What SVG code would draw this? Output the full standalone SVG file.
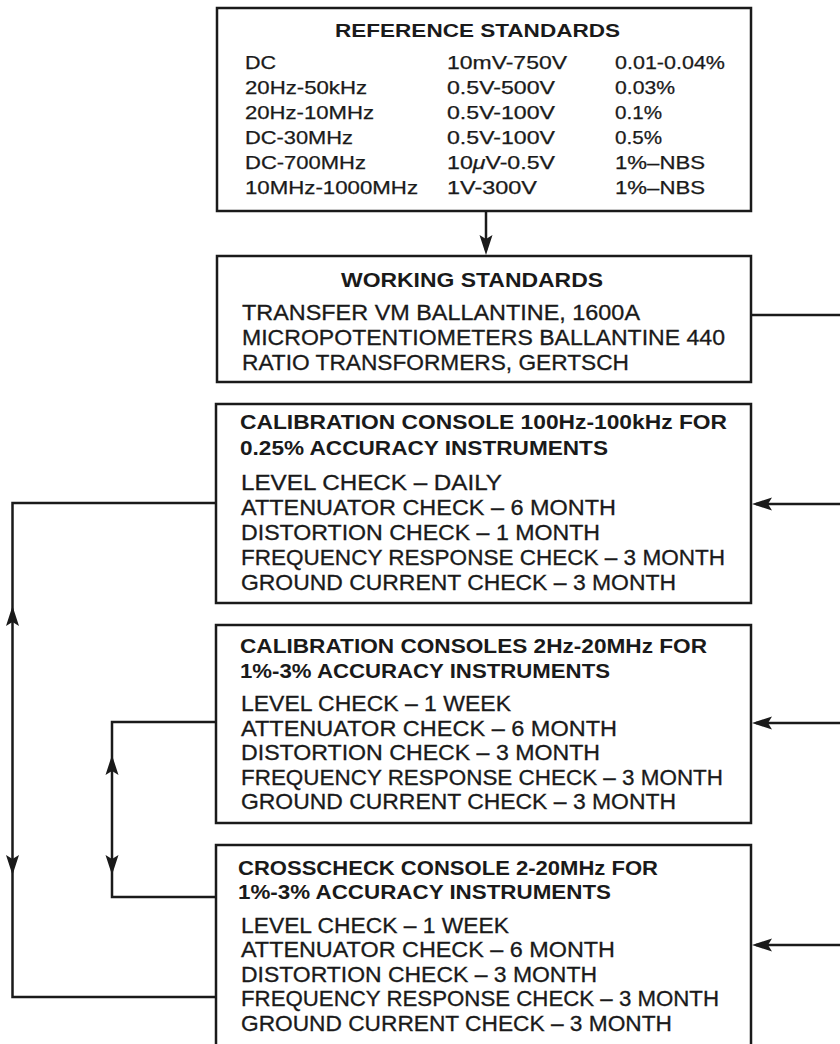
<svg xmlns="http://www.w3.org/2000/svg" xmlns:xlink="http://www.w3.org/1999/xlink" width="840" height="1044" viewBox="0 0 840 1044">
<style>
.box{fill:none;stroke:#1a1a1a;stroke-width:2.5}
.ln{fill:none;stroke:#1a1a1a;stroke-width:2.5}
.t{font-family:"Liberation Sans",Arial,sans-serif;fill:#1a1a1a;font-size:22px;stroke:#1a1a1a;stroke-width:0.3}
.s{font-family:"Liberation Sans",Arial,sans-serif;fill:#1a1a1a;font-size:18px;stroke:#1a1a1a;stroke-width:0.25}
.b{font-family:"Liberation Sans",Arial,sans-serif;fill:#1a1a1a;font-size:20px;font-weight:bold}
.bs{font-family:"Liberation Sans",Arial,sans-serif;fill:#1a1a1a;font-size:18px;font-weight:bold}
.ah{fill:#1a1a1a}
</style>
<defs>
<path id="ah" d="M0,0 L-20,-6.5 L-16,0 L-20,6.5 Z"/>
</defs>
<rect width="840" height="1044" fill="#ffffff"/>

<g id="connectors">
<line class="ln" x1="486" y1="211" x2="486" y2="250"/>
<use href="#ah" class="ah" transform="translate(486,255) rotate(90)"/>
<line class="ln" x1="751" y1="315" x2="840" y2="315"/>
<line class="ln" x1="756" y1="504" x2="840" y2="504"/>
<use href="#ah" class="ah" transform="translate(752,504) rotate(180)"/>
<line class="ln" x1="756" y1="723" x2="840" y2="723"/>
<use href="#ah" class="ah" transform="translate(752,723) rotate(180)"/>
<line class="ln" x1="756" y1="945" x2="840" y2="945"/>
<use href="#ah" class="ah" transform="translate(752,945) rotate(180)"/>
<polyline class="ln" points="216,503 12.5,503 12.5,997 216,997"/>
<use href="#ah" class="ah" transform="translate(12.5,606) rotate(-90)"/>
<use href="#ah" class="ah" transform="translate(12.5,875) rotate(90)"/>
<polyline class="ln" points="216,722 112,722 112,897 216,897"/>
<use href="#ah" class="ah" transform="translate(112,755) rotate(-90)"/>
<use href="#ah" class="ah" transform="translate(112,875) rotate(90)"/>
</g>

<g id="reference-standards">
<rect class="box" x="217" y="8" width="534" height="203"/>
<text class="bs" x="335" y="37" textLength="285" lengthAdjust="spacingAndGlyphs">REFERENCE STANDARDS</text>
<text class="s" x="245" y="69" textLength="31" lengthAdjust="spacingAndGlyphs">DC</text>
<text class="s" x="245" y="94" textLength="122" lengthAdjust="spacingAndGlyphs">20Hz-50kHz</text>
<text class="s" x="245" y="119" textLength="129" lengthAdjust="spacingAndGlyphs">20Hz-10MHz</text>
<text class="s" x="245" y="144" textLength="108" lengthAdjust="spacingAndGlyphs">DC-30MHz</text>
<text class="s" x="245" y="169" textLength="121" lengthAdjust="spacingAndGlyphs">DC-700MHz</text>
<text class="s" x="245" y="194" textLength="173" lengthAdjust="spacingAndGlyphs">10MHz-1000MHz</text>
<text class="s" x="447" y="69" textLength="120" lengthAdjust="spacingAndGlyphs">10mV-750V</text>
<text class="s" x="447" y="94" textLength="108" lengthAdjust="spacingAndGlyphs">0.5V-500V</text>
<text class="s" x="447" y="119" textLength="108" lengthAdjust="spacingAndGlyphs">0.5V-100V</text>
<text class="s" x="447" y="144" textLength="108" lengthAdjust="spacingAndGlyphs">0.5V-100V</text>
<text class="s" x="447" y="169" textLength="108" lengthAdjust="spacingAndGlyphs">10<tspan font-style="italic">μ</tspan>V-0.5V</text>
<text class="s" x="447" y="194" textLength="90" lengthAdjust="spacingAndGlyphs">1V-300V</text>
<text class="s" x="615" y="69" textLength="110" lengthAdjust="spacingAndGlyphs">0.01-0.04%</text>
<text class="s" x="615" y="94" textLength="60" lengthAdjust="spacingAndGlyphs">0.03%</text>
<text class="s" x="615" y="119" textLength="47" lengthAdjust="spacingAndGlyphs">0.1%</text>
<text class="s" x="615" y="144" textLength="47" lengthAdjust="spacingAndGlyphs">0.5%</text>
<text class="s" x="615" y="169" textLength="90" lengthAdjust="spacingAndGlyphs">1%–NBS</text>
<text class="s" x="615" y="194" textLength="90" lengthAdjust="spacingAndGlyphs">1%–NBS</text>
</g>

<g id="working-standards">
<rect class="box" x="217" y="256" width="534" height="126"/>
<text class="b" x="341" y="287" textLength="262" lengthAdjust="spacingAndGlyphs">WORKING STANDARDS</text>
<text class="t" x="242" y="320" textLength="398" lengthAdjust="spacingAndGlyphs">TRANSFER VM BALLANTINE, 1600A</text>
<text class="t" x="242" y="345" textLength="483" lengthAdjust="spacingAndGlyphs">MICROPOTENTIOMETERS BALLANTINE 440</text>
<text class="t" x="242" y="370" textLength="387" lengthAdjust="spacingAndGlyphs">RATIO TRANSFORMERS, GERTSCH</text>
</g>

<g id="calibration-console-100hz">
<rect class="box" x="216" y="404" width="535" height="199"/>
<text class="b" x="240" y="429" textLength="487" lengthAdjust="spacingAndGlyphs">CALIBRATION CONSOLE 100Hz-100kHz FOR</text>
<text class="b" x="240" y="455" textLength="368" lengthAdjust="spacingAndGlyphs">0.25% ACCURACY INSTRUMENTS</text>
<text class="t" x="241" y="490" textLength="261" lengthAdjust="spacingAndGlyphs">LEVEL CHECK – DAILY</text>
<text class="t" x="241" y="515" textLength="375" lengthAdjust="spacingAndGlyphs">ATTENUATOR CHECK – 6 MONTH</text>
<text class="t" x="241" y="540" textLength="359" lengthAdjust="spacingAndGlyphs">DISTORTION CHECK – 1 MONTH</text>
<text class="t" x="241" y="565" textLength="484" lengthAdjust="spacingAndGlyphs">FREQUENCY RESPONSE CHECK – 3 MONTH</text>
<text class="t" x="241" y="590" textLength="435" lengthAdjust="spacingAndGlyphs">GROUND CURRENT CHECK – 3 MONTH</text>
</g>

<g id="calibration-consoles-2hz">
<rect class="box" x="216" y="625" width="535" height="198"/>
<text class="b" x="240" y="653" textLength="467" lengthAdjust="spacingAndGlyphs">CALIBRATION CONSOLES 2Hz-20MHz FOR</text>
<text class="b" x="240" y="678" textLength="370" lengthAdjust="spacingAndGlyphs">1%-3% ACCURACY INSTRUMENTS</text>
<text class="t" x="241" y="711" textLength="270" lengthAdjust="spacingAndGlyphs">LEVEL CHECK – 1 WEEK</text>
<text class="t" x="241" y="736" textLength="376" lengthAdjust="spacingAndGlyphs">ATTENUATOR CHECK – 6 MONTH</text>
<text class="t" x="241" y="760" textLength="359" lengthAdjust="spacingAndGlyphs">DISTORTION CHECK – 3 MONTH</text>
<text class="t" x="241" y="785" textLength="482" lengthAdjust="spacingAndGlyphs">FREQUENCY RESPONSE CHECK – 3 MONTH</text>
<text class="t" x="241" y="809" textLength="435" lengthAdjust="spacingAndGlyphs">GROUND CURRENT CHECK – 3 MONTH</text>
</g>

<g id="crosscheck-console">
<rect class="box" x="216" y="845" width="535" height="220"/>
<text class="b" x="238" y="875" textLength="420" lengthAdjust="spacingAndGlyphs">CROSSCHECK CONSOLE 2-20MHz FOR</text>
<text class="b" x="238" y="899" textLength="373" lengthAdjust="spacingAndGlyphs">1%-3% ACCURACY INSTRUMENTS</text>
<text class="t" x="241" y="933" textLength="268" lengthAdjust="spacingAndGlyphs">LEVEL CHECK – 1 WEEK</text>
<text class="t" x="241" y="957" textLength="374" lengthAdjust="spacingAndGlyphs">ATTENUATOR CHECK – 6 MONTH</text>
<text class="t" x="241" y="982" textLength="356" lengthAdjust="spacingAndGlyphs">DISTORTION CHECK – 3 MONTH</text>
<text class="t" x="241" y="1006" textLength="478" lengthAdjust="spacingAndGlyphs">FREQUENCY RESPONSE CHECK – 3 MONTH</text>
<text class="t" x="241" y="1031" textLength="431" lengthAdjust="spacingAndGlyphs">GROUND CURRENT CHECK – 3 MONTH</text>
</g>
</svg>
